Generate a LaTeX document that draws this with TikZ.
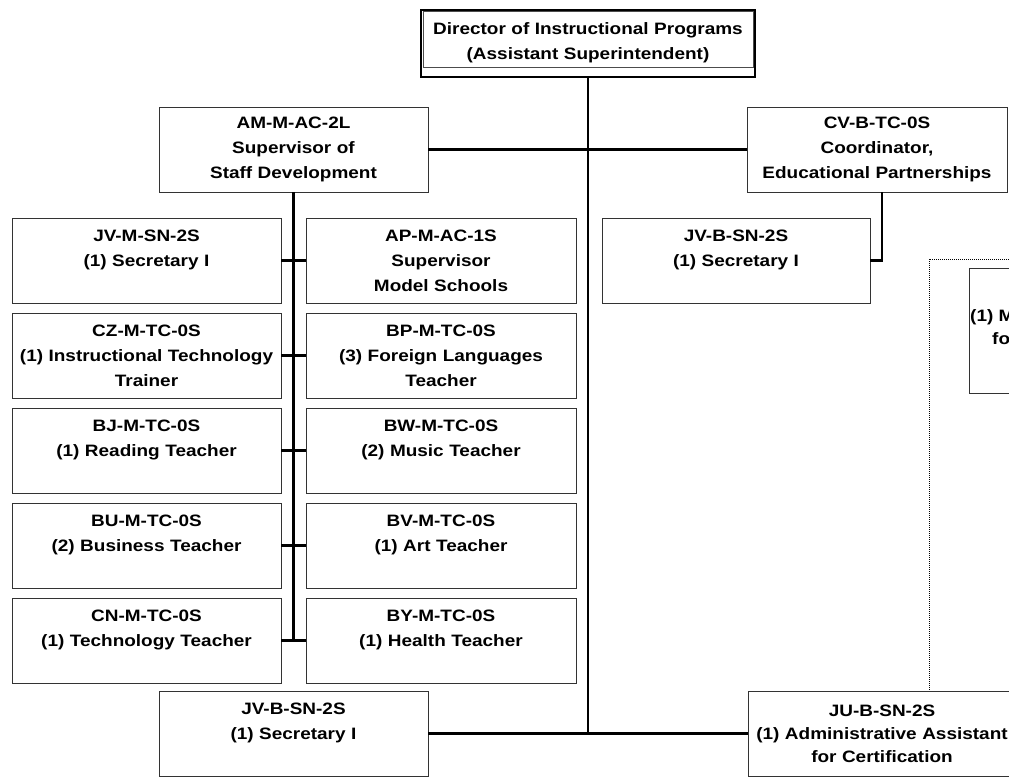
\documentclass[tikz,border=0pt]{standalone}
\usepackage{fontspec}
\setmainfont{Liberation Sans}[FakeStretch=1.15]
\usetikzlibrary{positioning,calc}

\tikzset{
  posbox/.style={draw=black!80, line width=0.8pt, inner sep=0pt, minimum height=85,
    align=center, font=\bfseries\fontsize{16.5}{25}\selectfont},
  link/.style={line width=2.8pt},
  frame/.style={line width=1pt, dash pattern=on 1pt off 1pt},
}

\begin{document}
\begin{tikzpicture}[x=1pt, y=-1pt]
    \useasboundingbox (0,0) rectangle (1009,777);
    \clip (0,0) rectangle (1009,777);

    % Director
    \node[posbox, line width=2pt, draw=black, minimum width=334, minimum height=67, text width=326] (dir) at (588,43)
        {Director of Instructional Programs\\(Assistant Superintendent)};
    \draw[line width=0.7pt, black!70] ($(dir.north west)+(3,3)$) rectangle ($(dir.south east)+(-3,-10)$);

    % Supervisors
    \node[posbox, minimum width=269, text width=262] (am) at (293.5,149.5) {AM-M-AC-2L\\Supervisor of\\Staff Development};
    \node[posbox, minimum width=260, text width=256] (cv) at (877,149.5) {CV-B-TC-0S\\Coordinator,\\Educational Partnerships};
    \node[posbox, minimum width=268, text width=262] (cvsec) at (736,260.5) {JV-B-SN-2S\\(1) Secretary I\\\mbox{}};

    % Staff Development column
    \foreach \i/\lt/\rt in {
        1/{JV-M-SN-2S\\(1) Secretary I\\\mbox{}}/{AP-M-AC-1S\\Supervisor\\Model Schools},
        2/{CZ-M-TC-0S\\(1) Instructional Technology\\Trainer}/{BP-M-TC-0S\\(3) Foreign Languages\\Teacher},
        3/{BJ-M-TC-0S\\(1) Reading Teacher\\\mbox{}}/{BW-M-TC-0S\\(2) Music Teacher\\\mbox{}},
        4/{BU-M-TC-0S\\(2) Business Teacher\\\mbox{}}/{BV-M-TC-0S\\(1) Art Teacher\\\mbox{}},
        5/{CN-M-TC-0S\\(1) Technology Teacher\\\mbox{}}/{BY-M-TC-0S\\(1) Health Teacher\\\mbox{}}} {
        \node[posbox, minimum width=269, text width=265] (L\i) at (146.5,{165.5+95*\i}) {\lt};
        \node[posbox, minimum width=270, text width=265] (R\i) at (441,{165.5+95*\i}) {\rt};
    }

    % Bottom row
    \node[posbox, minimum width=269, text width=262] (dirsec) at (293.5,733.5) {JV-B-SN-2S\\(1) Secretary I\\\mbox{}};
    \node[posbox, minimum width=268, text width=262, font=\bfseries\fontsize{16.5}{23}\selectfont] (jub) at (882,733.5)
        {JU-B-SN-2S\\(1) Administrative Assistant\\for Certification};

    % Cut-off group (dotted)
    \coordinate (grp) at (929,259);
    \node[posbox, minimum width=171, minimum height=125] (mgr) at (1054.5,330.5) {};
    \node[anchor=west, inner sep=0pt, font=\bfseries\fontsize{16.5}{23}\selectfont] (mgra) at (970,317) {(1) M};
    \node[anchor=west, inner sep=0pt, font=\bfseries\fontsize{16.5}{23}\selectfont] (mgrb) at (992,339) {fo};
    \draw[frame] (1015,259) -- (grp) -- (grp |- jub.north);

    % Connectors
    \draw[link] (dir.south) -- (dir.south |- jub.west);
    \draw[link] (am.east) -- (cv.west);
    \draw[link] (dirsec.east) -- (jub.west);
    \coordinate (cvdrop) at (882,0);
    \draw[link] (cvdrop |- cv.south) -- (cvdrop |- cvsec.east) -- (cvsec.east);
    \draw[link] (am.south) -- (am.south |- L5.east);
    \foreach \i in {1,...,5} \draw[link] (L\i.east) -- (R\i.west);
\end{tikzpicture}
\end{document}
